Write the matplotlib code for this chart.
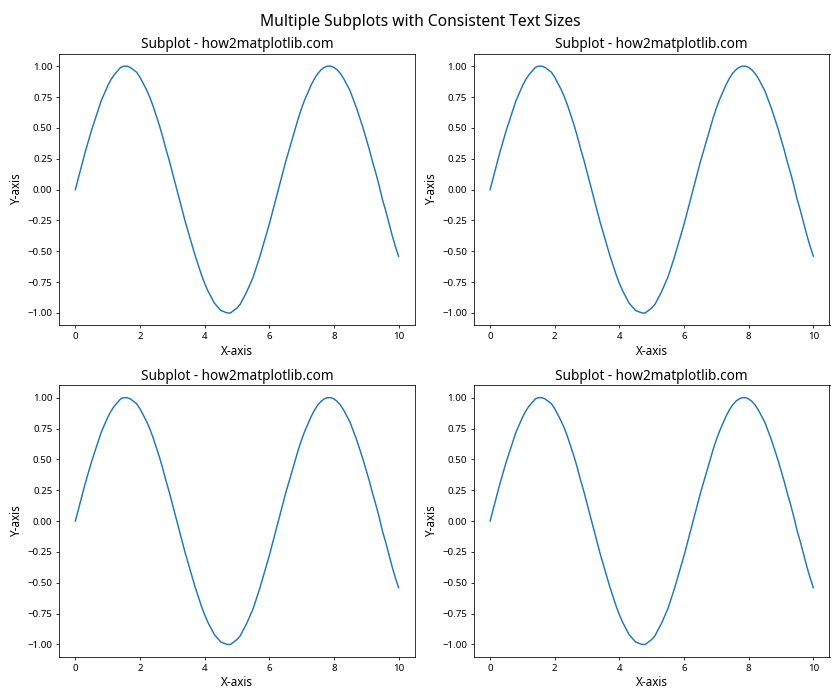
import matplotlib.pyplot as plt

plt.rcParams['font.family'] = ['Noto Sans', 'DejaVu Sans']

# values (same curve in every panel), x step 0.1
x_values = [round(i * 0.1, 1) for i in range(101)]
y_values = [0.00, 0.10, 0.20, 0.30, 0.39, 0.48, 0.56, 0.64, 0.72, 0.78,
            0.84, 0.89, 0.93, 0.96, 0.99, 1.00, 1.00, 0.99, 0.97, 0.95,
            0.91, 0.86, 0.81, 0.75, 0.68, 0.60, 0.52, 0.43, 0.33, 0.24,
            0.14, 0.04, -0.06, -0.16, -0.26, -0.35, -0.44, -0.53, -0.61, -0.69,
            -0.76, -0.82, -0.87, -0.92, -0.95, -0.98, -0.99, -1.00, -1.00, -0.98,
            -0.96, -0.93, -0.88, -0.83, -0.77, -0.71, -0.63, -0.55, -0.46, -0.37,
            -0.28, -0.18, -0.08, 0.02, 0.12, 0.22, 0.31, 0.40, 0.49, 0.58,
            0.66, 0.73, 0.79, 0.85, 0.90, 0.94, 0.97, 0.99, 1.00, 1.00,
            0.99, 0.97, 0.94, 0.90, 0.85, 0.80, 0.73, 0.66, 0.58, 0.50,
            0.41, 0.32, 0.22, 0.13, 0.03, -0.08, -0.17, -0.27, -0.37, -0.46,
            -0.54]

fig, axs = plt.subplots(2, 2, figsize=(12, 10), dpi=70)
fig.suptitle('Multiple Subplots with Consistent Text Sizes', fontsize=16)

for ax in axs.flat:
    ax.plot(x_values, y_values)
    ax.set_title('Subplot - how2matplotlib.com', fontsize=14)
    ax.set_xlabel('X-axis', fontsize=12)
    ax.set_ylabel('Y-axis', fontsize=12)
    ax.tick_params(labelsize=10)

plt.tight_layout()
plt.savefig('out.png')
